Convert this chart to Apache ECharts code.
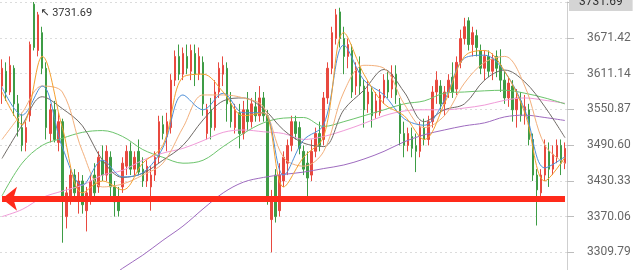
<!DOCTYPE html>
<html><head><meta charset="utf-8">
<script src="https://cdn.jsdelivr.net/npm/echarts@6/dist/echarts.min.js"></script>
<style>html,body{margin:0;padding:0;background:#fff}#c{width:640px;height:270px}</style>
</head><body><div id="c"></div>
<script>
// candles: [open, close, low, high]
const ohlc = [
[3590,3620,3560,3635],[3615,3580,3565,3630],[3580,3625,3575,3640],[3620,3560,3540,3625],[3560,3520,3505,3575],
[3520,3490,3480,3545],[3495,3520,3480,3530],[3540,3660,3530,3665],[3728,3655,3650,3731.69],[3650,3710,3640,3715],
[3680,3620,3610,3690],[3620,3520,3500,3630],[3510,3550,3495,3560],[3550,3500,3495,3565],[3495,3530,3480,3545],
[3530,3400,3326,3535],[3370,3410,3350,3420],[3400,3440,3390,3450],[3440,3410,3395,3450],[3400,3430,3375,3445],
[3430,3390,3375,3440],[3380,3410,3345,3420],[3400,3430,3390,3440],[3440,3410,3395,3460],[3420,3470,3410,3480],
[3465,3440,3430,3490],[3440,3480,3430,3490],[3470,3420,3400,3480],[3420,3395,3370,3430],[3400,3380,3370,3420],
[3420,3460,3410,3470],[3455,3480,3440,3490],[3480,3450,3440,3495],[3450,3470,3440,3480],[3480,3445,3440,3500],
[3450,3430,3420,3470],[3430,3455,3420,3465],[3420,3440,3380,3455],[3440,3470,3430,3480],[3470,3530,3460,3540],
[3525,3510,3500,3540],[3505,3530,3480,3545],[3520,3600,3510,3610],[3600,3640,3590,3650],[3640,3610,3600,3660],
[3610,3645,3600,3655],[3640,3620,3610,3660],[3615,3650,3600,3660],[3645,3610,3590,3660],[3610,3640,3600,3655],
[3630,3560,3540,3640],[3510,3550,3500,3560],[3550,3520,3500,3570],[3520,3580,3515,3600],[3580,3620,3570,3630],
[3610,3625,3590,3640],[3620,3560,3530,3630],[3560,3530,3520,3580],[3520,3550,3510,3560],[3545,3510,3485,3560],
[3510,3550,3500,3565],[3550,3530,3515,3580],[3530,3560,3520,3570],[3555,3540,3530,3580],[3540,3570,3530,3590],
[3570,3540,3530,3580],[3540,3400,3390,3550],[3365,3400,3309.79,3415],[3440,3370,3360,3450],[3380,3440,3370,3460],
[3430,3470,3420,3480],[3460,3490,3440,3500],[3490,3530,3480,3540],[3530,3510,3500,3540],[3520,3485,3475,3530],
[3480,3450,3440,3490],[3460,3435,3395,3480],[3440,3480,3430,3500],[3480,3510,3470,3520],[3510,3490,3480,3530],
[3500,3570,3490,3580],[3570,3620,3560,3630],[3620,3680,3610,3690],[3670,3710,3660,3720],[3715,3670,3655,3722],
[3670,3640,3610,3690],[3640,3660,3620,3670],[3650,3580,3570,3660],[3590,3620,3575,3630],[3620,3590,3575,3640],
[3590,3550,3520,3600],[3560,3580,3545,3600],[3580,3540,3520,3590],[3545,3565,3535,3580],[3545,3575,3540,3585],
[3570,3600,3560,3610],[3600,3580,3570,3615],[3585,3610,3570,3625],[3610,3575,3560,3625],[3560,3510,3490,3570],
[3510,3490,3470,3530],[3490,3510,3480,3520],[3505,3485,3470,3520],[3490,3480,3445,3510],[3480,3520,3470,3530],
[3520,3500,3490,3535],[3500,3530,3490,3540],[3530,3580,3520,3590],[3580,3600,3560,3615],[3590,3560,3545,3600],
[3560,3580,3540,3590],[3580,3600,3570,3610],[3605,3580,3570,3630],[3585,3630,3575,3640],[3630,3670,3620,3685],
[3670,3690,3660,3705],[3700,3660,3650,3706],[3660,3680,3640,3690],[3675,3655,3640,3685],[3650,3620,3610,3660],
[3620,3640,3600,3650],[3640,3615,3605,3650],[3615,3635,3600,3645],[3640,3620,3605,3650],[3625,3600,3580,3652],
[3600,3570,3560,3615],[3570,3595,3555,3605],[3590,3550,3530,3600],[3550,3570,3520,3585],[3565,3540,3530,3580],
[3540,3555,3525,3575],[3550,3500,3490,3560],[3500,3440,3430,3510],[3440,3415,3355,3450],[3410,3440,3395,3450],
[3440,3490,3430,3500],[3480,3450,3420,3495],[3450,3475,3440,3490],[3470,3490,3460,3500],[3490,3460,3440,3500],
[3460,3485,3450,3495]
];
const categories = ohlc.map((d, i) => 'K' + (i + 1));

// moving-average lines, at every 5th candle
const maIdx = [0,5,10,15,20,25,30,35,40,45,50,55,60,65,70,75,80,85,90,95,100,105,110,115,120,125,130,135,140];
const ma5  = [3580,3525,3640,3520,3410,3430,3415,3460,3490,3605,3610,3580,3540,3545,3420,3470,3505,3680,3610,3560,3540,3500,3560,3640,3650,3615,3545,3430,3470];
const ma10 = [3588,3541,3590,3487,3423,3465,3437,3444,3486,3575,3550,3578,3545,3545,3440,3499,3525,3659,3600,3575,3535,3524,3566,3637,3642,3614,3550,3452,3471];
const ma20 = [3500,3545,3590,3580,3480,3420,3425,3440,3460,3520,3575,3575,3570,3555,3470,3455,3480,3580,3625,3620,3560,3520,3540,3595,3630,3640,3590,3490,3460];
const ma30 = [3468,3524,3572,3552,3523,3465,3436,3443,3465,3490,3533,3565,3570,3552,3516,3494,3488,3550,3583,3618,3580,3530,3550,3560,3600,3617,3597,3555,3503];
const ma60 = [3405,3460,3490,3502,3512,3515,3505,3483,3470,3460,3465,3488,3510,3528,3536,3537,3522,3530,3540,3550,3560,3565,3578,3580,3582,3583,3578,3570,3560];
const ma120 = [3370,3382,3402,3413,3423,3440,3448,3465,3477,3485,3498,3512,3516,3513,3510,3500,3505,3515,3527,3540,3548,3550,3550,3553,3558,3566,3570,3566,3561];
const ma250Idx = [20,25,30,35,40,45,50,55,60,65,70,75,80,85,90,95,100,105,110,115,120,125,130,135,140];
const ma250 = [3233,3258,3283,3305,3330,3354,3383,3410,3428,3436,3441,3445,3451,3457,3467,3480,3496,3508,3516,3523,3528,3538,3541,3537,3532];

const yTicks = [3309.79,3370.06,3430.33,3490.60,3550.87,3611.14,3671.42,3731.69];
const yTickLabels = ['3309.79','3370.06','3430.33','3490.60','3550.87','3611.14','3671.42','3731.69'];
const peakIndex = 8, peakValue = 3731.69, peakLabel = '\u2196 3731.69';
const arrowLevel = 3400, arrowStart = 0;

function maSeries(name, idx, vals, color) {
  return {
    name, type: 'line', data: idx.map((k, j) => [k, vals[j]]),
    smooth: 0.35, showSymbol: false, silent: true,
    lineStyle: { width: 1, color }, z: 3
  };
}

const chart = echarts.init(document.getElementById('c'), null, { renderer: 'canvas' });
chart.setOption({
  animation: false,
  backgroundColor: '#ffffff',
  grid: { left: 0, right: 73, top: 2, bottom: 0 },
  xAxis: { type: 'category', data: categories, boundaryGap: true, show: false },
  yAxis: {
    type: 'value', position: 'right', min: 3280, max: yTicks[yTicks.length - 1],
    axisLine: { show: true, lineStyle: { color: '#cfcfcf' } },
    axisTick: { show: true, length: 7, customValues: yTicks, lineStyle: { color: '#bdbdbd' } },
    axisLabel: {
      customValues: yTicks, margin: 20, color: '#666', fontSize: 12, fontFamily: 'Roboto',
      formatter: v => {
        const k = yTicks.findIndex(t => Math.abs(t - v) < 0.01);
        if (k < 0 || k === yTicks.length - 1) return '';
        return yTickLabels[k];
      }
    },
    splitLine: { show: true, lineStyle: { color: '#dcdcdc', type: [2, 3] } }
  },
  series: [
    maSeries('MA250', ma250Idx, ma250, '#9e6bbf'),
    maSeries('MA120', maIdx, ma120, '#f09ad8'),
    maSeries('MA60', maIdx, ma60, '#6cc46c'),
    maSeries('MA30', maIdx, ma30, '#6f6a66'),
    maSeries('MA20', maIdx, ma20, '#f3b07c'),
    maSeries('MA10', maIdx, ma10, '#4d8fd8'),
    maSeries('MA5', maIdx, ma5, '#f5a030'),
    {
      name: 'K', type: 'candlestick', data: ohlc, barWidth: 2, z: 2,
      itemStyle: { color: '#e8493f', color0: '#3e9c45', borderColor: '#e8493f', borderColor0: '#3e9c45', borderWidth: 1 },
      markPoint: {
        symbol: 'circle', symbolSize: 0, silent: true,
        data: [{ coord: [peakIndex, peakValue] }],
        label: { show: true, position: [6, 6], formatter: peakLabel, color: '#333', fontSize: 11, fontFamily: 'Roboto, DejaVu Sans' }
      },
      markLine: {
        silent: true, animation: false,
        data: [
          [{ coord: [arrowStart, arrowLevel], symbol: 'arrow', symbolSize: [18, 15] },
           { coord: [ohlc.length - 1, arrowLevel], symbol: 'none' }]
        ],
        lineStyle: { color: '#ff2a1a', width: 6, type: 'solid' },
        label: { show: false }
      }
    },
    {
      name: 'top', type: 'line', data: [], silent: true,
      markLine: {
        silent: true, animation: false, symbol: 'none',
        data: [{ yAxis: peakValue }],
        lineStyle: { color: 'rgba(0,0,0,0)', width: 0 },
        label: { show: true, position: 'end', distance: 2, formatter: yTickLabels[yTickLabels.length - 1],
                 backgroundColor: '#d4d4d4', color: '#333', padding: [3, 10], fontSize: 12, fontFamily: 'Roboto' }
      }
    }
  ]
});
</script></body></html>
